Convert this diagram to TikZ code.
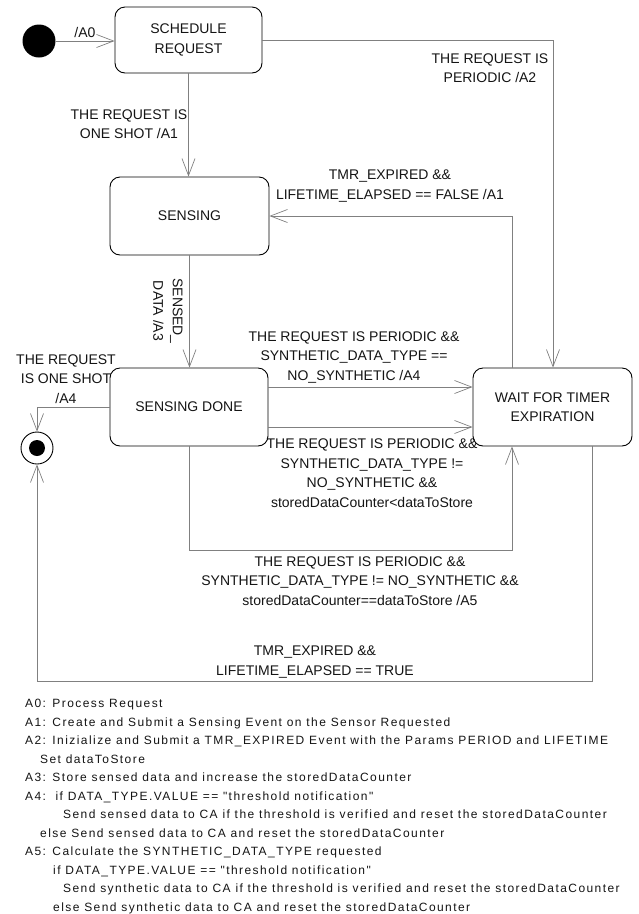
\documentclass[tikz,border=0pt]{standalone}
\usepackage{fontspec}
\setmainfont{Liberation Sans}
\newfontfamily\actionfont[LetterSpace=12]{Liberation Sans}
\usetikzlibrary{arrows.meta}
\definecolor{wire}{RGB}{128,128,128}
\definecolor{ink}{RGB}{20,20,20}
\begin{document}
\begin{tikzpicture}[x=1pt,y=-1pt,
  state/.style={draw=black, line width=0.9pt, rounded corners=10pt, align=center,
    inner sep=0pt, text=ink, font=\fontsize{14}{19.5}\selectfont},
  lbl/.style={align=center, inner sep=0pt, text=ink, font=\fontsize{14}{19.5}\selectfont},
  legend/.style={anchor=base west, inner sep=0pt, text=ink, font=\actionfont\fontsize{12}{18.5}\selectfont},
  trans/.style={draw=wire, line width=0.7pt, -{Straight Barb[length=17pt,width=13pt,line width=0.7pt]}},
  wireline/.style={draw=wire, line width=0.7pt}]
\useasboundingbox (0,0) rectangle (638,914);

% states
\node[circle, fill=black, minimum size=33pt, inner sep=0pt] (init) at (39,41) {};
\node[state, minimum width=147pt, minimum height=66pt] (sched) at (188.5,40) {SCHEDULE\\REQUEST};
\node[state, minimum width=159pt, minimum height=78pt] (sensing) at (189.5,216) {SENSING};
\node[state, minimum width=158pt, minimum height=78pt] (sdone) at (189,407) {SENSING DONE};
\node[state, minimum width=159pt, minimum height=78pt] (wait) at (552.5,407) {WAIT FOR TIMER\\EXPIRATION};
\node[circle, draw=black, line width=0.9pt, minimum size=32pt, inner sep=0pt] (final) at (37,448) {};
\node[circle, fill=black, minimum size=16pt, inner sep=0pt] (finaldot) at (final) {};

% bend points
\coordinate (pA2) at (553,40);
\coordinate (pA1) at (512,216);
\coordinate (pL1) at (189,550);
\coordinate (pL2) at (512,550);
\coordinate (pT1) at (592,681);
\coordinate (pT2) at (37,681);

% transitions
\draw[trans] (init) -- (sched.west |- init);
\draw[trans] (sched.south) -- (sched.south |- sensing.north);
\draw[trans] (sched.east) -- (pA2) -- (pA2 |- wait.north);
\draw[trans] (pA1 |- wait.north) -- (pA1) -- (sensing.east);
\draw[trans] (sensing.south) -- (sensing.south |- sdone.north);
\draw[trans] (sdone.west) -| (final.north);
\draw[trans] ([yshift=20pt]sdone.east) -- ([yshift=20pt]wait.west);
\draw[trans] ([yshift=-20pt]sdone.east) -- ([yshift=-20pt]wait.west);
\draw[trans] (sdone.south) -- (pL1) -- (pL2) -- (pL2 |- wait.south);
\draw[trans] (pT1 |- wait.south) -- (pT1) -- (pT2) -- (final.south);

% transition labels
\node[lbl] (tA0) at (85,32) {/A0};
\node[lbl] (tA1) at (129,124) {THE REQUEST IS\\ONE SHOT /A1};
\node[lbl] (tA2) at (490,68) {THE REQUEST IS\\PERIODIC /A2};
\node[lbl] (tTF) at (390,186) {TMR\_EXPIRED \&\&\\LIFETIME\_ELAPSED == FALSE /A1};
\node[lbl, rotate=-90] (tA3) at (168,311) {SENSED\_\\DATA /A3};
\node[lbl] (tA4a) at (66,379) {THE REQUEST\\IS ONE SHOT\\/A4};
\node[lbl] (tA4b) at (354,357) {THE REQUEST IS PERIODIC \&\&\\SYNTHETIC\_DATA\_TYPE ==\\NO\_SYNTHETIC /A4};
\node[lbl] (tLT) at (372,473) {THE REQUEST IS PERIODIC \&\&\\SYNTHETIC\_DATA\_TYPE !=\\NO\_SYNTHETIC \&\&\\storedDataCounter<dataToStore};
\node[lbl] (tA5) at (360,581) {THE REQUEST IS PERIODIC \&\&\\SYNTHETIC\_DATA\_TYPE != NO\_SYNTHETIC \&\&\\storedDataCounter==dataToStore /A5};
\node[lbl] (tTT) at (315,662) {TMR\_EXPIRED \&\&\\LIFETIME\_ELAPSED == TRUE};

% action legend
\node[legend] (lg0) at (25,707.5) {A0: Process Request};
\node[legend] (lg1) at (25,726) {A1: Create and Submit a Sensing Event on the Sensor Requested};
\node[legend] (lg2) at (25,744.5) {A2: Inizialize and Submit a TMR\_EXPIRED Event with the Params PERIOD and LIFETIME};
\node[legend] (lg3) at (40,763) {Set dataToStore};
\node[legend] (lg4) at (25,781.5) {A3: Store sensed data and increase the storedDataCounter};
\node[legend] (lg5) at (25,800) {A4:\ \ if DATA\_TYPE.VALUE == "threshold notification"};
\node[legend] (lg6) at (63,818.5) {Send sensed data to CA if the threshold is verified and reset the storedDataCounter};
\node[legend] (lg7) at (40,837) {else Send sensed data to CA and reset the storedDataCounter};
\node[legend] (lg8) at (25,855.5) {A5: Calculate the SYNTHETIC\_DATA\_TYPE requested};
\node[legend] (lg9) at (53,874) {if DATA\_TYPE.VALUE == "threshold notification"};
\node[legend] (lg10) at (63,892.5) {Send synthetic data to CA if the threshold is verified and reset the storedDataCounter};
\node[legend] (lg11) at (53,911) {else Send synthetic data to CA and reset the storedDataCounter};
\end{tikzpicture}
\end{document}
